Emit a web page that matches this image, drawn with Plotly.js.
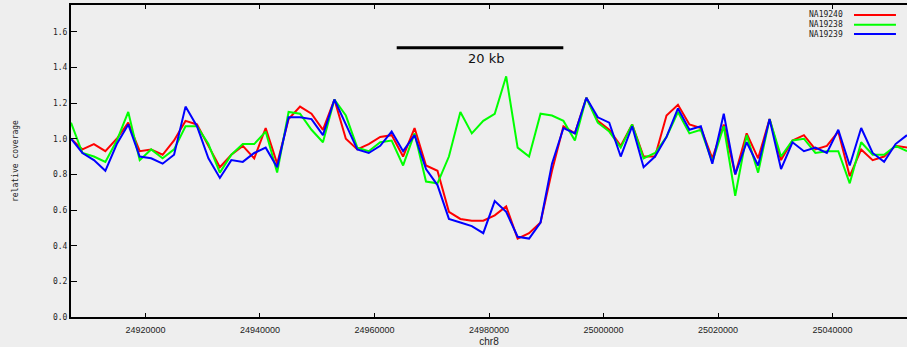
<!DOCTYPE html>
<html>
<head>
<meta charset="utf-8">
<script src="https://cdn.plot.ly/plotly-3.0.1.min.js"></script>
<style>html,body{margin:0;padding:0;background:#eeeeee;}#chart{width:907px;height:347px;}</style>
</head>
<body>
<div id="chart"></div>
<script>
const positions = [24907000,24909000,24911000,24913000,24915000,24917000,24919000,24921000,24923000,24925000,
24927000,24929000,24931000,24933000,24935000,24937000,24939000,24941000,24943000,24945000,
24947000,24949000,24951000,24953000,24955000,24957000,24959000,24961000,24963000,24965000,
24967000,24969000,24971000,24973000,24975000,24977000,24979000,24981000,24983000,24985000,
24987000,24989000,24991000,24993000,24995000,24997000,24999000,25001000,25003000,25005000,
25007000,25009000,25011000,25013000,25015000,25017000,25019000,25021000,25023000,25025000,
25027000,25029000,25031000,25033000,25035000,25037000,25039000,25041000,25043000,25045000,
25047000,25049000,25051000,25053000];

const seriesNames = ["NA19240","NA19238","NA19239"];
const seriesColors = ["#ff0000","#00ff00","#0000ff"];

const na19240 = [1.00,0.94,0.97,0.93,1.00,1.09,0.93,0.94,0.91,0.99,
1.10,1.08,0.96,0.84,0.91,0.96,0.89,1.06,0.86,1.11,
1.18,1.14,1.05,1.22,1.00,0.94,0.97,1.01,1.02,0.90,
1.06,0.85,0.82,0.59,0.55,0.54,0.54,0.57,0.62,0.44,
0.47,0.53,0.82,1.07,1.03,1.23,1.10,1.05,0.96,1.08,
0.90,0.90,1.13,1.19,1.08,1.06,0.89,1.08,0.80,1.03,
0.89,1.11,0.88,0.99,1.02,0.94,0.96,1.04,0.79,0.94,
0.88,0.90,0.96,0.95];

const na19238 = [1.09,0.92,0.90,0.87,0.99,1.15,0.88,0.94,0.89,0.94,
1.07,1.07,0.97,0.81,0.91,0.97,0.97,1.04,0.81,1.15,
1.14,1.05,0.98,1.22,1.13,0.95,0.93,0.98,0.99,0.85,
1.03,0.76,0.75,0.90,1.15,1.03,1.10,1.14,1.35,0.95,
0.90,1.14,1.13,1.10,0.99,1.23,1.09,1.04,0.95,1.08,
0.89,0.92,1.01,1.15,1.03,1.05,0.87,1.07,0.68,1.02,
0.81,1.11,0.90,0.99,1.00,0.92,0.93,0.93,0.75,0.98,
0.91,0.91,0.96,0.93];

const na19239 = [1.00,0.92,0.88,0.82,0.97,1.08,0.90,0.89,0.86,0.91,
1.18,1.07,0.89,0.78,0.88,0.87,0.92,0.95,0.84,1.12,
1.12,1.11,1.02,1.22,1.08,0.94,0.92,0.96,1.04,0.93,
1.02,0.83,0.74,0.55,0.53,0.51,0.47,0.65,0.59,0.45,
0.44,0.53,0.86,1.06,1.03,1.23,1.12,1.09,0.90,1.07,
0.84,0.90,1.01,1.17,1.05,1.07,0.86,1.14,0.80,0.98,
0.85,1.11,0.83,0.98,0.93,0.95,0.92,1.05,0.85,1.06,
0.92,0.87,0.97,1.02];

const xTickVals = [24920000,24940000,24960000,24980000,25000000,25020000,25040000];
const xTickText = ["24920000","24940000","24960000","24980000","25000000","25020000","25040000"];
const yTickVals = [0,0.2,0.4,0.6,0.8,1.0,1.2,1.4,1.6];
const yTickText = ["0.0","0.2","0.4","0.6","0.8","1.0","1.2","1.4","1.6"];
const scaleLabel = "20 kb";

const allSeries = [na19240, na19238, na19239];
const traces = allSeries.map((vals, k) => ({
  x: positions, y: vals, type: "scatter", mode: "lines", name: seriesNames[k],
  line: {color: seriesColors[k], width: 2}, hoverinfo: "x+y+name"
}));

const mono = "DejaVu Sans Mono";
const annotations = [];
const shapes = [];
const legendY = [0.968, 0.937, 0.907];
seriesNames.forEach((n, k) => {
  annotations.push({xref:"paper", yref:"paper", x:0.9258, y:legendY[k], xanchor:"right", yanchor:"middle",
    text:n, showarrow:false, font:{family:mono, size:8, color:"#222"}});
  shapes.push({type:"line", xref:"paper", yref:"paper", x0:0.9366, x1:0.9868, y0:legendY[k], y1:legendY[k],
    line:{color:seriesColors[k], width:2}});
});
shapes.push({type:"line", xref:"paper", yref:"paper", x0:0.3896, x1:0.5889, y0:0.863, y1:0.863,
  line:{color:"#000", width:3}});
annotations.push({xref:"paper", yref:"paper", x:0.4964, y:0.829, xanchor:"center", yanchor:"middle",
  text:scaleLabel, showarrow:false, font:{family:"DejaVu Sans", size:13, color:"#111"}});

const layout = {
  width: 907, height: 347,
  margin: {l: 71, r: 0, t: 5, b: 30, pad: 0},
  paper_bgcolor: "#eeeeee", plot_bgcolor: "#eeeeee",
  showlegend: false,
  xaxis: {
    range: [24907000, 25053000], tickmode: "array", tickvals: xTickVals, ticktext: xTickText,
    showgrid: false, zeroline: false, showline: true, linecolor: "#000", linewidth: 2, mirror: "ticks",
    ticks: "inside", ticklen: 4, tickwidth: 1, tickcolor: "#000", ticklabelstandoff: 3,
    tickfont: {family: "Liberation Sans", size: 9, color: "#222"},
    title: {text: "chr8", font: {family: "Liberation Sans", size: 10, color: "#222"}, standoff: 6},
    automargin: false
  },
  yaxis: {
    range: [0, 1.75], tickmode: "array", tickvals: yTickVals, ticktext: yTickText,
    showgrid: false, zeroline: false, showline: true, linecolor: "#000", linewidth: 2, mirror: true,
    ticks: "inside", ticklen: 6, tickwidth: 1, tickcolor: "#000",
    tickfont: {family: mono, size: 8, color: "#222"},
    title: {text: "relative coverage", font: {family: mono, size: 8, color: "#222"}, standoff: 33},
    automargin: false
  },
  annotations: annotations,
  shapes: shapes
};

Plotly.newPlot("chart", traces, layout, {displayModeBar: false, staticPlot: true});
</script>
</body>
</html>
